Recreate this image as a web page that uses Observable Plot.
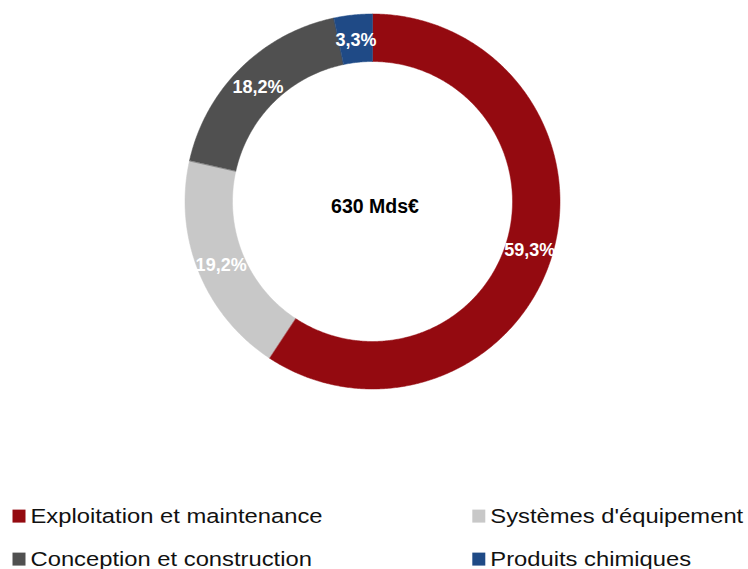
<!DOCTYPE html>
<html>
<head>
<meta charset="utf-8">
<script src="https://cdn.jsdelivr.net/npm/d3@7"></script>
<script src="https://cdn.jsdelivr.net/npm/@observablehq/plot@0.6"></script>
<style>
  html, body { margin: 0; padding: 0; background: #fff; }
  svg { display: block; }
</style>
</head>
<body>
<div id="chart"></div>
<script>
// ---- data ----
const categories = ["Exploitation et maintenance", "Systèmes d'équipement", "Conception et construction", "Produits chimiques"];
const shares = [59.3, 19.2, 18.2, 3.3];
const colors = ["#940A10", "#C8C8C8", "#505050", "#1F4A86"];
const totalValue = 630;
const totalUnit = "Mds€";
const legendRow = [0, 0, 1, 1];
const legendCol = [0, 1, 0, 1];

// ---- layout ----
const W = 748, H = 569;
const cx = 372.5, cy = 201.5, rIn = 140, rOut = 187.5;

const sum = d3.sum(shares);
let acc = 0;
const slices = categories.map((c, i) => {
  const s = acc / sum; acc += shares[i]; const e = acc / sum;
  return {cat: c, value: shares[i], s, e};
});

const arcPts = [];
for (const sl of slices) {
  const n = Math.max(2, Math.ceil((sl.e - sl.s) * 720));
  for (let k = 0; k <= n; k++) {
    const f = sl.s + (sl.e - sl.s) * k / n;
    const a = 2 * Math.PI * f;
    arcPts.push({
      cat: sl.cat,
      xi: cx + rIn * Math.sin(a), yi: cy - rIn * Math.cos(a),
      xo: cx + rOut * Math.sin(a), yo: cy - rOut * Math.cos(a)
    });
  }
}

const rMid = (rIn + rOut) / 2;
const labels = slices.map(sl => {
  const a = 2 * Math.PI * (sl.s + sl.e) / 2;
  return {
    text: sl.value.toFixed(1).replace(".", ",") + "%",
    x: cx + rMid * Math.sin(a), y: cy - rMid * Math.cos(a) + 1.5
  };
});

const legendX = [18.5, 478.3];
const legendY = [515.6, 558.6];
const legend = categories.map((c, i) => ({
  cat: c,
  mx: legendX[legendCol[i]],
  tx: legendX[legendCol[i]] + 11.5,
  y: legendY[legendRow[i]]
}));

const chart = Plot.plot({
  width: W, height: H, margin: 0,
  style: {fontFamily: "'Liberation Sans', Arial, sans-serif", background: "#fff"},
  x: {domain: [0, W], axis: null},
  y: {domain: [H, 0], axis: null},
  color: {domain: categories, range: colors},
  marks: [
    Plot.area(arcPts, {x1: "xi", y1: "yi", x2: "xo", y2: "yo", z: "cat", fill: "cat", stroke: "cat", strokeWidth: 0.5}),
    Plot.text(labels, {x: "x", y: "y", text: "text", fill: "white", fontWeight: "bold", fontSize: 18}),
    Plot.text([totalValue], {x: () => cx + 2, y: () => cy + 5, text: d => `${d} ${totalUnit}`, fill: "black", fontWeight: "bold", fontSize: 19.5}),
    Plot.dot(legend, {x: "mx", y: "y", symbol: "square", r: 7.33, fill: "cat", stroke: null}),
    Plot.text(legend, {x: "tx", y: "y", text: "cat", textAnchor: "start", fill: "#111", fontSize: 20.5})
  ]
});

document.getElementById("chart").appendChild(chart);

// stretch legend glyphs horizontally like the reference
d3.select(chart).selectAll("text").each(function() {
  const t = this.textContent;
  if (categories.includes(t)) {
    const tr = this.getAttribute("transform");
    if (tr) {
      this.setAttribute("transform", tr + " scale(1.16,1)");
    } else {
      const x = +this.getAttribute("x") || 0;
      this.setAttribute("transform", `translate(${x},0) scale(1.16,1) translate(${-x},0)`);
    }
  }
});
</script>
</body>
</html>
